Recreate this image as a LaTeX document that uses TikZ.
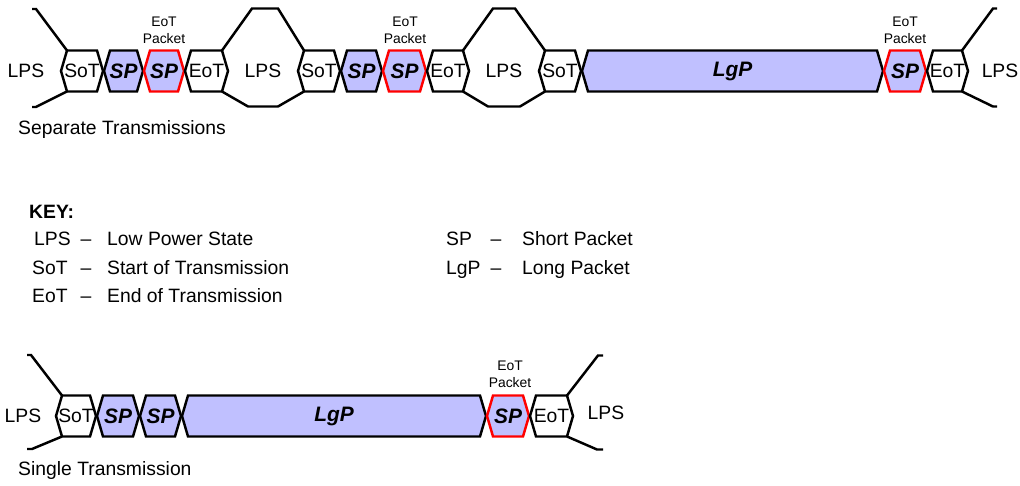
\documentclass[tikz,border=0pt]{standalone}
\usepackage{fontspec}
\setmainfont{Liberation Sans}
\usepackage{tikz}
\usetikzlibrary{calc,positioning}
\definecolor{pktblue}{RGB}{192,192,255}
\newcommand{\pk}[1]{{\fontsize{11.9}{14}\selectfont\bfseries\itshape #1}}
\newcommand{\pkt}[6]{%
  \draw[#5] (#2,#4-20.5) coordinate (#1-nw) -- (#3,#4-20.5) coordinate (#1-ne)
    -- (#3+6,#4) -- (#3,#4+20.5) coordinate (#1-se) -- (#2,#4+20.5) coordinate (#1-sw)
    -- (#2-6,#4) -- cycle;
  \node[lbl] (#1) at ({(#2+#3)/2},#4) {#6};}

\begin{document}
\begin{tikzpicture}[x=0.02cm,y=-0.02cm,line width=1.4pt,
  ctl/.style={draw=black,fill=white},
  sp/.style={draw=black,fill=pktblue},
  eotp/.style={draw=red,fill=pktblue},
  lbl/.style={inner sep=0pt,font=\fontsize{11}{13}\selectfont},
  tag/.style={inner sep=0pt,align=center,font=\fontsize{7.9}{9.6}\selectfont},
  keyl/.style={inner sep=0pt,anchor=base west,font=\fontsize{11}{13}\selectfont},
  dsh/.style={inner sep=0pt,anchor=base,font=\fontsize{11}{13}\selectfont}]
\useasboundingbox (0,0) rectangle (1020,486);
\newcommand*{\ra}{71}; \newcommand*{\rb}{416};
\pkt{sota}{67}{97}{\ra}{ctl}{SoT}
\pkt{spa}{110}{137}{\ra}{sp}{\pk{SP}}
\pkt{spb}{150}{178}{\ra}{eotp}{\pk{SP}}
\pkt{eota}{191}{222}{\ra}{ctl}{EoT}
\pkt{sotb}{304}{334}{\ra}{ctl}{SoT}
\pkt{spc}{347}{376}{\ra}{sp}{\pk{SP}}
\pkt{spd}{389}{420}{\ra}{eotp}{\pk{SP}}
\pkt{eotb}{433}{463}{\ra}{ctl}{EoT}
\pkt{sotc}{545}{575}{\ra}{ctl}{SoT}
\pkt{lgpa}{588}{877}{\ra}{sp}{\pk{LgP}}
\pkt{spe}{890}{920}{\ra}{eotp}{\pk{SP}}
\pkt{eotc}{933}{962}{\ra}{ctl}{EoT}
\coordinate (ina) at (32,9);
\coordinate (inb) at (32,107);
\draw (ina) -- ++(4,0) -- (sota-nw);
\draw (inb) -- ++(4,0) -- (sota-sw);
\draw (eota-ne) -- ++(30,-42) -- ++(26,0) -- (sotb-nw);
\draw (eota-se) -- ++(26,15) -- ++(30,0) -- (sotb-sw);
\draw (eotb-ne) -- ++(30,-42) -- ++(22,0) -- (sotc-nw);
\draw (eotb-se) -- ++(25,15) -- ++(32,0) -- (sotc-sw);
\draw (eotc-ne) -- ++(31,-42) -- ++(4,0);
\draw (eotc-se) -- ++(31,15) -- ++(4,0);
\node[lbl] (lpsa) at (26,\ra) {LPS};
\node[lbl] (lpsb) at (263,\ra) {LPS};
\node[lbl] (lpsc) at (504,\ra) {LPS};
\node[lbl] (lpsd) at (1000,\ra) {LPS};
\node[tag] (taga) at (164,30) {EoT\\Packet};
\node[tag] (tagb) at (405,30) {EoT\\Packet};
\node[tag] (tagc) at (905,30) {EoT\\Packet};
\node[lbl,anchor=west] (sep) at (17,130) {Separate Transmissions};
\node[keyl] (key) at (28,218) {\bfseries KEY:};
\node[keyl] (klps) at (33,245) {LPS};
\node[keyl] (ksot) at (31,274) {SoT};
\node[keyl] (keot) at (31,302) {EoT};
\node[dsh] (dlps) at (86,245) {–};
\node[dsh] (dsot) at (86,274) {–};
\node[dsh] (deot) at (86,302) {–};
\node[keyl] (tlps) at (106,245) {Low Power State};
\node[keyl] (tsot) at (106,274) {Start of Transmission};
\node[keyl] (teot) at (106,302) {End of Transmission};
\node[keyl] (ksp) at (445,245) {SP};
\node[keyl] (klgp) at (445,274) {LgP};
\node[dsh] (dsp) at (496,245) {–};
\node[dsh] (dlgp) at (496,274) {–};
\node[keyl] (tsp) at (521,245) {Short Packet};
\node[keyl] (tlgp) at (521,274) {Long Packet};
\pkt{sotd}{62}{90}{\rb}{ctl}{SoT}
\pkt{spf}{103}{133}{\rb}{sp}{\pk{SP}}
\pkt{spg}{146}{175}{\rb}{sp}{\pk{SP}}
\pkt{lgpb}{188}{480}{\rb}{sp}{\pk{LgP}}
\pkt{sph}{493}{523}{\rb}{eotp}{\pk{SP}}
\pkt{eotd}{536}{567}{\rb}{ctl}{EoT}
\coordinate (inc) at (27,355);
\coordinate (ind) at (27,449);
\draw (inc) -- ++(4,0) -- (sotd-nw);
\draw (ind) -- ++(5,0) -- (sotd-sw);
\draw (eotd-ne) -- ++(31,-40) -- ++(5,0);
\draw (eotd-se) -- ++(30,13) -- ++(6,0);
\node[lbl] (lpse) at (23,\rb) {LPS};
\node[lbl] (lpsf) at (606,413) {LPS};
\node[tag] (tagd) at (510,374) {EoT\\Packet};
\node[lbl,anchor=west] (sgl) at (17,470) {Single Transmission};
\end{tikzpicture}
\end{document}
